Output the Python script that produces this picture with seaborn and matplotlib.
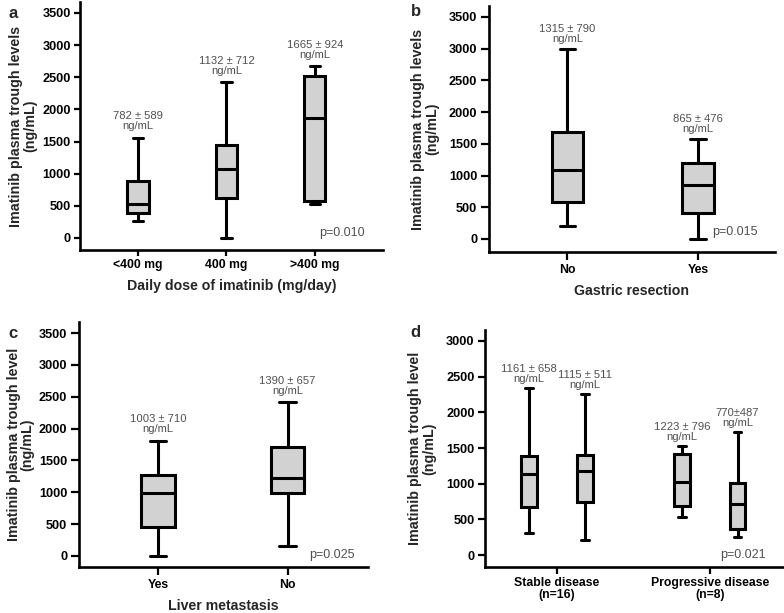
import numpy as np
import pandas as pd
import matplotlib
matplotlib.use("Agg")
import matplotlib.pyplot as plt
import seaborn as sns

sns.set_style("white")
plt.rcParams['font.family'] = ['Liberation Sans', 'DejaVu Sans']

# ---- data: five-number summaries [min, Q1, median, Q3, max] ----
a_cats = ["<400 mg", "400 mg", ">400 mg"]
a_min = [265, 0, 530]
a_q1 = [384, 628, 571]
a_med = [524, 1070, 1859]
a_q3 = [888, 1449, 2523]
a_max = [1563, 2425, 2669]
a_notes = ["782 ± 589\nng/mL", "1132 ± 712\nng/mL", "1665 ± 924\nng/mL"]

b_cats = ["No", "Yes"]
b_min = [210, 0]
b_q1 = [583, 410]
b_med = [1083, 846]
b_q3 = [1682, 1193]
b_max = [2995, 1576]
b_notes = ["1315 ± 790\nng/mL", "865 ± 476\nng/mL"]

c_cats = ["Yes", "No"]
c_min = [0, 152]
c_q1 = [456, 992]
c_med = [992, 1228]
c_q3 = [1270, 1716]
c_max = [1810, 2413]
c_notes = ["1003 ± 710\nng/mL", "1390 ± 657\nng/mL"]

d_groups = ["Stable disease\n(n=16)", "Stable disease\n(n=16)",
            "Progressive disease\n(n=8)", "Progressive disease\n(n=8)"]
d_hue = ["Measurement 1", "Measurement 2", "Measurement 1", "Measurement 2"]
d_min = [304, 215, 533, 248]
d_q1 = [673, 743, 682, 360]
d_med = [1131, 1178, 1019, 715]
d_q3 = [1388, 1402, 1421, 1005]
d_max = [2346, 2257, 1533, 1729]
d_notes = ["1161 ± 658\nng/mL", "1115 ± 511\nng/mL", "1223 ± 796\nng/mL", "770±487\nng/mL"]

FILL = "#d2d2d2"
LW = 2.2
NOTE_C = "#505050"
NOTE_FS = 8.1


def long_df(cats, mins, q1s, meds, q3s, maxs, hues=None):
    rows = []
    for i, c in enumerate(cats):
        for v in (mins[i], q1s[i], meds[i], q3s[i], maxs[i]):
            r = {"cat": c, "val": v}
            if hues is not None:
                r["hue"] = hues[i]
            rows.append(r)
    return pd.DataFrame(rows)


def style_ax(ax, ylabel, xlabel, yticks, ylim, xlim, letter, letter_xy, fig,
             ticklen=4.5, labelpad=4):
    ax.set_ylim(*ylim)
    ax.set_xlim(*xlim)
    ax.set_yticks(yticks)
    ax.set_yticklabels([str(t) for t in yticks], fontweight="bold", fontsize=9.2)
    for lab in ax.get_xticklabels():
        lab.set_fontweight("bold")
        lab.set_fontsize(8.8)
    ax.set_ylabel(ylabel, fontweight="bold", fontsize=10.3, labelpad=labelpad, linespacing=1.0)
    ax.set_xlabel(xlabel, fontweight="bold", fontsize=10.2, labelpad=6)
    for s in ["top", "right"]:
        ax.spines[s].set_visible(False)
    for s in ["left", "bottom"]:
        ax.spines[s].set_linewidth(1.9)
        ax.spines[s].set_color("black")
    ax.tick_params(axis="both", direction="out", length=ticklen, width=1.6, colors="black",
                   left=True, bottom=True, pad=2.5)
    fig.text(letter_xy[0], letter_xy[1], letter, fontweight="bold", fontsize=12,
             ha="center", va="center")


fig = plt.figure(figsize=(7.84, 6.13), dpi=100)
H = 613.0
W = 784.0


def add_ax(left, right, top, bottom):
    return fig.add_axes([left / W, 1 - bottom / H, (right - left) / W, (bottom - top) / H])


box_kw = dict(whis=np.inf, color=FILL, linecolor="black", linewidth=LW,
              fill=True, showfliers=False)

# ---- panel a ----
ax = add_ax(80, 383, 2, 250)
df = long_df(a_cats, a_min, a_q1, a_med, a_q3, a_max)
sns.boxplot(data=df, x="cat", y="val", order=a_cats, width=0.24, ax=ax, **box_kw)
for i, n in enumerate(a_notes):
    ax.text(i, a_max[i] + 100, n, ha="center", va="bottom", color=NOTE_C,
            fontsize=NOTE_FS, linespacing=1.0)
ax.text(2.56, 70, "p=0.010", ha="right", va="center", color=NOTE_C, fontsize=9)
style_ax(ax, "Imatinib plasma trough levels\n(ng/mL)", "Daily dose of imatinib (mg/day)",
         [0, 500, 1000, 1500, 2000, 2500, 3000, 3500], (-187, 3671), (-0.655, 2.77),
         "a", (13 / W, 1 - 13 / H), fig, ticklen=4.0, labelpad=4)

# ---- panel b ----
ax = add_ax(489, 775, 6, 252)
df = long_df(b_cats, b_min, b_q1, b_med, b_q3, b_max)
sns.boxplot(data=df, x="cat", y="val", order=b_cats, width=0.24, ax=ax, **box_kw)
for i, n in enumerate(b_notes):
    ax.text(i, b_max[i] + 80, n, ha="center", va="bottom", color=NOTE_C,
            fontsize=NOTE_FS, linespacing=1.0)
ax.text(1.46, 105, "p=0.015", ha="right", va="center", color=NOTE_C, fontsize=9)
style_ax(ax, "Imatinib plasma trough levels\n(ng/mL)", "Gastric resection",
         [0, 500, 1000, 1500, 2000, 2500, 3000, 3500], (-205, 3673), (-0.6, 1.59),
         "b", (416 / W, 1 - 12 / H), fig, ticklen=6.0, labelpad=7)

# ---- panel c ----
ax = add_ax(79, 368, 322, 567)
df = long_df(c_cats, c_min, c_q1, c_med, c_q3, c_max)
sns.boxplot(data=df, x="cat", y="val", order=c_cats, width=0.26, ax=ax, **box_kw)
for i, n in enumerate(c_notes):
    ax.text(i, c_max[i] + 100, n, ha="center", va="bottom", color=NOTE_C,
            fontsize=NOTE_FS, linespacing=1.0)
ax.text(1.52, 10, "p=0.025", ha="right", va="center", color=NOTE_C, fontsize=9)
style_ax(ax, "Imatinib plasma trough level\n(ng/mL)", "Liver metastasis",
         [0, 500, 1000, 1500, 2000, 2500, 3000, 3500], (-173, 3673), (-0.61, 1.62),
         "c", (13 / W, 1 - 333 / H), fig, ticklen=6.0, labelpad=3)

# ---- panel d ----
ax = add_ax(485, 783, 330, 567)
d_order = ["Stable disease\n(n=16)", "Progressive disease\n(n=8)"]
df = long_df(d_groups, d_min, d_q1, d_med, d_q3, d_max, hues=d_hue)
DW = 0.73
sns.boxplot(data=df, x="cat", y="val", hue="hue", order=d_order,
            hue_order=["Measurement 1", "Measurement 2"], width=DW, gap=0.72,
            dodge=True, legend=False, ax=ax,
            palette=[FILL, FILL], whis=np.inf, linecolor="black", linewidth=LW,
            showfliers=False)
for k, n in enumerate(d_notes):
    g = k // 2
    off = -DW / 4 if k % 2 == 0 else DW / 4
    ax.text(g + off, d_max[k] + 55, n, ha="center", va="bottom", color=NOTE_C,
            fontsize=NOTE_FS, linespacing=1.0)
ax.text(1.37, 0, "p=0.021", ha="right", va="center", color=NOTE_C, fontsize=9)
style_ax(ax, "Imatinib plasma trough level\n(ng/mL)", "",
         [0, 500, 1000, 1500, 2000, 2500, 3000], (-168, 3154), (-0.47, 1.48),
         "d", (415 / W, 1 - 332 / H), fig, ticklen=5.0, labelpad=7)
for lab in ax.get_xticklabels():
    lab.set_linespacing(1.0)

fig.savefig("out.png", dpi=100)
